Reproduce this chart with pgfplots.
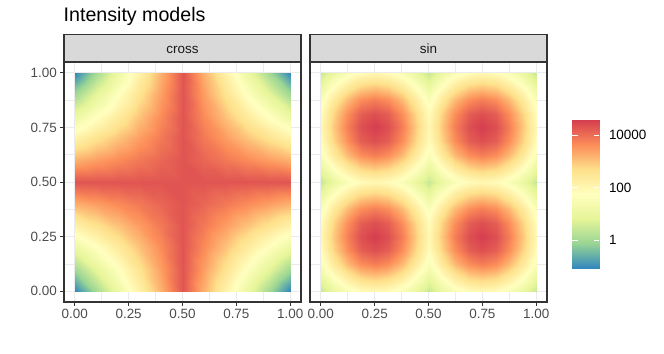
\documentclass[border=0pt]{standalone}
\usepackage{pgfplots}
\pgfplotsset{compat=1.18}
\usepackage{fontspec}
\setmainfont{Liberation Sans}
\definecolor{ggrid}{HTML}{EBEBEB}
\definecolor{gborder}{HTML}{333333}
\definecolor{stripfill}{HTML}{D9D9D9}
\definecolor{ticktext}{HTML}{4D4D4D}
\pgfplotsset{
  spectral/.style={
    colormap={spectral}{rgb255=(50,136,189) rgb255=(153,213,148) rgb255=(230,245,152) rgb255=(255,255,191) rgb255=(254,224,139) rgb255=(252,141,89) rgb255=(213,62,79)},
    point meta min=-1.05, point meta max=4.57,
  },
  panel/.style={
    spectral,
    scale only axis, width=237bp, height=240bp, anchor=south west,
    xmin=-0.05, xmax=1.05, ymin=-0.05, ymax=1.05,
    xtick={0,0.25,0.5,0.75,1}, ytick={0,0.25,0.5,0.75,1},
    minor xtick={0.125,0.375,0.625,0.875}, minor ytick={0.125,0.375,0.625,0.875},
    grid=both, major grid style={ggrid, line width=1bp}, minor grid style={ggrid, line width=0.5bp},
    minor tick length=0pt, major tick length=3.7bp, tick align=outside,
    xtick pos=bottom, ytick pos=left,
    tick style={gborder, line width=1bp},
    axis line style={gborder, line width=1.1bp},
    xticklabels={0.00,0.25,0.50,0.75,1.00},
    yticklabels={0.00,0.25,0.50,0.75,1.00},
    ticklabel style={font=\fontsize{13.5}{15}\selectfont, text=ticktext},
  }
}
\begin{document}
\begin{tikzpicture}[x=1bp,y=1bp]
\path[use as bounding box] (0,0) rectangle (664,353);
% cross panel (values: log10 intensity)
\begin{axis}[panel, at={(64bp,51bp)}]
\addplot[surf, shader=interp, mesh/cols=11, point meta=explicit] coordinates {
(0,0)[-1.05] (0.1,0)[0.02] (0.2,0)[1.09] (0.3,0)[2.16] (0.4,0)[3.23] (0.5,0)[4.30] (0.6,0)[3.23] (0.7,0)[2.16] (0.8,0)[1.09] (0.9,0)[0.02] (1,0)[-1.05]
(0,0.1)[0.02] (0.1,0.1)[0.88] (0.2,0.1)[1.73] (0.3,0.1)[2.59] (0.4,0.1)[3.44] (0.5,0.1)[4.30] (0.6,0.1)[3.44] (0.7,0.1)[2.59] (0.8,0.1)[1.73] (0.9,0.1)[0.88] (1,0.1)[0.02]
(0,0.2)[1.09] (0.1,0.2)[1.73] (0.2,0.2)[2.37] (0.3,0.2)[3.02] (0.4,0.2)[3.66] (0.5,0.2)[4.30] (0.6,0.2)[3.66] (0.7,0.2)[3.02] (0.8,0.2)[2.37] (0.9,0.2)[1.73] (1,0.2)[1.09]
(0,0.3)[2.16] (0.1,0.3)[2.59] (0.2,0.3)[3.02] (0.3,0.3)[3.44] (0.4,0.3)[3.87] (0.5,0.3)[4.30] (0.6,0.3)[3.87] (0.7,0.3)[3.44] (0.8,0.3)[3.02] (0.9,0.3)[2.59] (1,0.3)[2.16]
(0,0.4)[3.23] (0.1,0.4)[3.44] (0.2,0.4)[3.66] (0.3,0.4)[3.87] (0.4,0.4)[4.09] (0.5,0.4)[4.30] (0.6,0.4)[4.09] (0.7,0.4)[3.87] (0.8,0.4)[3.66] (0.9,0.4)[3.44] (1,0.4)[3.23]
(0,0.5)[4.30] (0.1,0.5)[4.30] (0.2,0.5)[4.30] (0.3,0.5)[4.30] (0.4,0.5)[4.30] (0.5,0.5)[4.30] (0.6,0.5)[4.30] (0.7,0.5)[4.30] (0.8,0.5)[4.30] (0.9,0.5)[4.30] (1,0.5)[4.30]
(0,0.6)[3.23] (0.1,0.6)[3.44] (0.2,0.6)[3.66] (0.3,0.6)[3.87] (0.4,0.6)[4.09] (0.5,0.6)[4.30] (0.6,0.6)[4.09] (0.7,0.6)[3.87] (0.8,0.6)[3.66] (0.9,0.6)[3.44] (1,0.6)[3.23]
(0,0.7)[2.16] (0.1,0.7)[2.59] (0.2,0.7)[3.02] (0.3,0.7)[3.44] (0.4,0.7)[3.87] (0.5,0.7)[4.30] (0.6,0.7)[3.87] (0.7,0.7)[3.44] (0.8,0.7)[3.02] (0.9,0.7)[2.59] (1,0.7)[2.16]
(0,0.8)[1.09] (0.1,0.8)[1.73] (0.2,0.8)[2.37] (0.3,0.8)[3.02] (0.4,0.8)[3.66] (0.5,0.8)[4.30] (0.6,0.8)[3.66] (0.7,0.8)[3.02] (0.8,0.8)[2.37] (0.9,0.8)[1.73] (1,0.8)[1.09]
(0,0.9)[0.02] (0.1,0.9)[0.88] (0.2,0.9)[1.73] (0.3,0.9)[2.59] (0.4,0.9)[3.44] (0.5,0.9)[4.30] (0.6,0.9)[3.44] (0.7,0.9)[2.59] (0.8,0.9)[1.73] (0.9,0.9)[0.88] (1,0.9)[0.02]
(0,1)[-1.05] (0.1,1)[0.02] (0.2,1)[1.09] (0.3,1)[2.16] (0.4,1)[3.23] (0.5,1)[4.30] (0.6,1)[3.23] (0.7,1)[2.16] (0.8,1)[1.09] (0.9,1)[0.02] (1,1)[-1.05]
};
\end{axis}
% sin panel
\begin{axis}[panel, at={(310bp,51bp)}, yticklabels={}, ytick style={draw=none}]
\addplot[surf, shader=interp, mesh/cols=17, point meta=explicit] coordinates {
(0,0)[0.45] (.0625,0)[1.04] (.125,0)[1.55] (.1875,0)[1.88] (.25,0)[2.00] (.3125,0)[1.88] (.375,0)[1.55] (.4375,0)[1.04] (.5,0)[0.45] (.5625,0)[1.04] (.625,0)[1.55] (.6875,0)[1.88] (.75,0)[2.00] (.8125,0)[1.88] (.875,0)[1.55] (.9375,0)[1.04] (1,0)[0.45]
(0,.0625)[1.04] (.0625,.0625)[1.79] (.125,.0625)[2.42] (.1875,.0625)[2.84] (.25,.0625)[2.98] (.3125,.0625)[2.84] (.375,.0625)[2.42] (.4375,.0625)[1.79] (.5,.0625)[1.04] (.5625,.0625)[1.79] (.625,.0625)[2.42] (.6875,.0625)[2.84] (.75,.0625)[2.98] (.8125,.0625)[2.84] (.875,.0625)[2.42] (.9375,.0625)[1.79] (1,.0625)[1.04]
(0,.125)[1.55] (.0625,.125)[2.42] (.125,.125)[3.15] (.1875,.125)[3.64] (.25,.125)[3.82] (.3125,.125)[3.64] (.375,.125)[3.15] (.4375,.125)[2.42] (.5,.125)[1.55] (.5625,.125)[2.42] (.625,.125)[3.15] (.6875,.125)[3.64] (.75,.125)[3.82] (.8125,.125)[3.64] (.875,.125)[3.15] (.9375,.125)[2.42] (1,.125)[1.55]
(0,.1875)[1.88] (.0625,.1875)[2.84] (.125,.1875)[3.64] (.1875,.1875)[4.19] (.25,.1875)[4.37] (.3125,.1875)[4.19] (.375,.1875)[3.64] (.4375,.1875)[2.84] (.5,.1875)[1.88] (.5625,.1875)[2.84] (.625,.1875)[3.64] (.6875,.1875)[4.19] (.75,.1875)[4.37] (.8125,.1875)[4.19] (.875,.1875)[3.64] (.9375,.1875)[2.84] (1,.1875)[1.88]
(0,.25)[2.00] (.0625,.25)[2.98] (.125,.25)[3.82] (.1875,.25)[4.37] (.25,.25)[4.57] (.3125,.25)[4.37] (.375,.25)[3.82] (.4375,.25)[2.98] (.5,.25)[2.00] (.5625,.25)[2.98] (.625,.25)[3.82] (.6875,.25)[4.37] (.75,.25)[4.57] (.8125,.25)[4.37] (.875,.25)[3.82] (.9375,.25)[2.98] (1,.25)[2.00]
(0,.3125)[1.88] (.0625,.3125)[2.84] (.125,.3125)[3.64] (.1875,.3125)[4.19] (.25,.3125)[4.37] (.3125,.3125)[4.19] (.375,.3125)[3.64] (.4375,.3125)[2.84] (.5,.3125)[1.88] (.5625,.3125)[2.84] (.625,.3125)[3.64] (.6875,.3125)[4.19] (.75,.3125)[4.37] (.8125,.3125)[4.19] (.875,.3125)[3.64] (.9375,.3125)[2.84] (1,.3125)[1.88]
(0,.375)[1.55] (.0625,.375)[2.42] (.125,.375)[3.15] (.1875,.375)[3.64] (.25,.375)[3.82] (.3125,.375)[3.64] (.375,.375)[3.15] (.4375,.375)[2.42] (.5,.375)[1.55] (.5625,.375)[2.42] (.625,.375)[3.15] (.6875,.375)[3.64] (.75,.375)[3.82] (.8125,.375)[3.64] (.875,.375)[3.15] (.9375,.375)[2.42] (1,.375)[1.55]
(0,.4375)[1.04] (.0625,.4375)[1.79] (.125,.4375)[2.42] (.1875,.4375)[2.84] (.25,.4375)[2.98] (.3125,.4375)[2.84] (.375,.4375)[2.42] (.4375,.4375)[1.79] (.5,.4375)[1.04] (.5625,.4375)[1.79] (.625,.4375)[2.42] (.6875,.4375)[2.84] (.75,.4375)[2.98] (.8125,.4375)[2.84] (.875,.4375)[2.42] (.9375,.4375)[1.79] (1,.4375)[1.04]
(0,.5)[0.45] (.0625,.5)[1.04] (.125,.5)[1.55] (.1875,.5)[1.88] (.25,.5)[2.00] (.3125,.5)[1.88] (.375,.5)[1.55] (.4375,.5)[1.04] (.5,.5)[0.45] (.5625,.5)[1.04] (.625,.5)[1.55] (.6875,.5)[1.88] (.75,.5)[2.00] (.8125,.5)[1.88] (.875,.5)[1.55] (.9375,.5)[1.04] (1,.5)[0.45]
(0,.5625)[1.04] (.0625,.5625)[1.79] (.125,.5625)[2.42] (.1875,.5625)[2.84] (.25,.5625)[2.98] (.3125,.5625)[2.84] (.375,.5625)[2.42] (.4375,.5625)[1.79] (.5,.5625)[1.04] (.5625,.5625)[1.79] (.625,.5625)[2.42] (.6875,.5625)[2.84] (.75,.5625)[2.98] (.8125,.5625)[2.84] (.875,.5625)[2.42] (.9375,.5625)[1.79] (1,.5625)[1.04]
(0,.625)[1.55] (.0625,.625)[2.42] (.125,.625)[3.15] (.1875,.625)[3.64] (.25,.625)[3.82] (.3125,.625)[3.64] (.375,.625)[3.15] (.4375,.625)[2.42] (.5,.625)[1.55] (.5625,.625)[2.42] (.625,.625)[3.15] (.6875,.625)[3.64] (.75,.625)[3.82] (.8125,.625)[3.64] (.875,.625)[3.15] (.9375,.625)[2.42] (1,.625)[1.55]
(0,.6875)[1.88] (.0625,.6875)[2.84] (.125,.6875)[3.64] (.1875,.6875)[4.19] (.25,.6875)[4.37] (.3125,.6875)[4.19] (.375,.6875)[3.64] (.4375,.6875)[2.84] (.5,.6875)[1.88] (.5625,.6875)[2.84] (.625,.6875)[3.64] (.6875,.6875)[4.19] (.75,.6875)[4.37] (.8125,.6875)[4.19] (.875,.6875)[3.64] (.9375,.6875)[2.84] (1,.6875)[1.88]
(0,.75)[2.00] (.0625,.75)[2.98] (.125,.75)[3.82] (.1875,.75)[4.37] (.25,.75)[4.57] (.3125,.75)[4.37] (.375,.75)[3.82] (.4375,.75)[2.98] (.5,.75)[2.00] (.5625,.75)[2.98] (.625,.75)[3.82] (.6875,.75)[4.37] (.75,.75)[4.57] (.8125,.75)[4.37] (.875,.75)[3.82] (.9375,.75)[2.98] (1,.75)[2.00]
(0,.8125)[1.88] (.0625,.8125)[2.84] (.125,.8125)[3.64] (.1875,.8125)[4.19] (.25,.8125)[4.37] (.3125,.8125)[4.19] (.375,.8125)[3.64] (.4375,.8125)[2.84] (.5,.8125)[1.88] (.5625,.8125)[2.84] (.625,.8125)[3.64] (.6875,.8125)[4.19] (.75,.8125)[4.37] (.8125,.8125)[4.19] (.875,.8125)[3.64] (.9375,.8125)[2.84] (1,.8125)[1.88]
(0,.875)[1.55] (.0625,.875)[2.42] (.125,.875)[3.15] (.1875,.875)[3.64] (.25,.875)[3.82] (.3125,.875)[3.64] (.375,.875)[3.15] (.4375,.875)[2.42] (.5,.875)[1.55] (.5625,.875)[2.42] (.625,.875)[3.15] (.6875,.875)[3.64] (.75,.875)[3.82] (.8125,.875)[3.64] (.875,.875)[3.15] (.9375,.875)[2.42] (1,.875)[1.55]
(0,.9375)[1.04] (.0625,.9375)[1.79] (.125,.9375)[2.42] (.1875,.9375)[2.84] (.25,.9375)[2.98] (.3125,.9375)[2.84] (.375,.9375)[2.42] (.4375,.9375)[1.79] (.5,.9375)[1.04] (.5625,.9375)[1.79] (.625,.9375)[2.42] (.6875,.9375)[2.84] (.75,.9375)[2.98] (.8125,.9375)[2.84] (.875,.9375)[2.42] (.9375,.9375)[1.79] (1,.9375)[1.04]
(0,1)[0.45] (.0625,1)[1.04] (.125,1)[1.55] (.1875,1)[1.88] (.25,1)[2.00] (.3125,1)[1.88] (.375,1)[1.55] (.4375,1)[1.04] (.5,1)[0.45] (.5625,1)[1.04] (.625,1)[1.55] (.6875,1)[1.88] (.75,1)[2.00] (.8125,1)[1.88] (.875,1)[1.55] (.9375,1)[1.04] (1,1)[0.45]
};
\end{axis}
% colour bar (log10 scale)
\begin{axis}[spectral, at={(572.3bp,85bp)}, anchor=south west,
  scale only axis, width=27bp, height=148bp,
  xmin=0, xmax=1, ymin=-1.05, ymax=4.57,
  axis line style={draw=none}, axis on top,
  xtick=\empty, ytick={0,2,4}, yticklabels={1,100,10000},
  major tick length=5.4bp, tick align=inside, ytick pos=both, yticklabel pos=right,
  tick style={white, line width=0.8bp},
  yticklabel style={font=\fontsize{13.5}{15}\selectfont, text=black, anchor=west, inner sep=0pt, xshift=9.5bp},
  ]
\addplot[surf, shader=interp, mesh/cols=2, point meta=explicit] coordinates {
(0,-1.05)[-1.05] (1,-1.05)[-1.05]
(0,4.57)[4.57] (1,4.57)[4.57]
};
\end{axis}
% strips
\draw[gborder, line width=1.1bp, fill=stripfill] (64,291) rectangle (301,318.3);
\draw[gborder, line width=1.1bp, fill=stripfill] (310,291) rectangle (547,318.3);
\node[anchor=base, inner sep=0, text=black!90, font=\fontsize{13.5}{15}\selectfont] at (182.5,299.7) {cross};
\node[anchor=base, inner sep=0, text=black!90, font=\fontsize{13.5}{15}\selectfont] at (428.5,299.7) {sin};
% title
\node[anchor=base west, inner sep=0, font=\fontsize{19.7}{22}\selectfont] at (63.5,331.3) {Intensity models};
\end{tikzpicture}
\end{document}
